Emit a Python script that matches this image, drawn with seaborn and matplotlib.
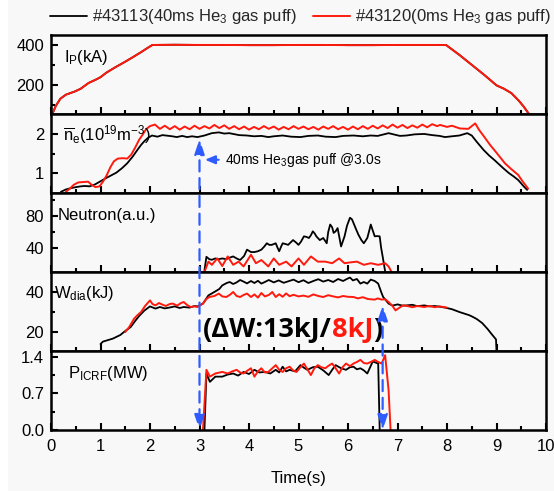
import matplotlib
matplotlib.use("Agg")
import matplotlib.pyplot as plt
import seaborn as sns
from matplotlib.patches import ConnectionPatch, Rectangle
from matplotlib.ticker import MultipleLocator, FixedLocator, FormatStrFormatter
from matplotlib.offsetbox import TextArea, HPacker, AnnotationBbox

# ---------------- data ----------------
shot_labels = ["#43113(40ms He$_3$ gas puff)", "#43120(0ms He$_3$ gas puff)"]

# plasma current (kA)
t_ip = [0.03, 0.1, 0.19, 0.3, 0.48, 0.6, 0.76, 0.9, 1.0, 1.12, 1.3, 1.48, 1.65, 1.84,
        1.95, 2.05, 2.5, 3.0, 3.5, 4.0, 4.5, 5.0, 5.5, 6.0, 6.5, 7.0, 7.5, 7.98,
        8.25, 8.5, 8.75, 9.0, 9.15, 9.3, 9.45, 9.55, 9.65]
ip_43113 = [55, 95, 130, 150, 166, 180, 209, 225, 238, 261, 288, 313, 338, 367,
            385, 400, 401, 400, 400, 399, 399, 400, 400, 399, 399, 400, 400, 400,
            350, 300, 250, 197, 180, 158, 120, 90, 55]
ip_43120 = [55, 95, 130, 150, 166, 180, 209, 225, 238, 261, 288, 313, 338, 367,
            385, 400, 401, 400, 400, 399, 399, 400, 400, 399, 399, 400, 400, 400,
            350, 300, 250, 197, 180, 158, 120, 90, 55]

# line-averaged density (1e19 m^-3)
t_ne_a = [0.2, 0.3, 0.39, 0.5, 0.6, 0.68, 0.78, 0.89, 1.0, 1.11, 1.2, 1.32, 1.43, 1.54,
          1.65, 1.75, 1.82, 1.89, 1.96, 2.04, 2.15, 2.25, 2.32, 2.45, 2.54, 2.65, 2.75,
          2.85, 2.96, 3.1, 3.25, 3.39, 3.5, 3.6, 3.68, 3.8, 3.96, 4.1, 4.25, 4.39, 4.5,
          4.68, 4.85, 5.04, 5.2, 5.39, 5.55, 5.75, 5.9, 6.11, 6.3, 6.46, 6.6, 6.82, 6.95,
          7.05, 7.18, 7.35, 7.54, 7.7, 7.85, 7.96, 8.1, 8.25, 8.41, 8.5, 8.6, 8.74, 8.85,
          8.96, 9.14, 9.25, 9.35, 9.44, 9.55, 9.62]
ne_43113 = [0.52, 0.58, 0.61, 0.64, 0.66, 0.67, 0.66, 0.71, 0.79, 0.87, 0.93, 1.01, 1.12, 1.25,
            1.42, 1.6, 1.72, 1.82, 1.9, 1.96, 1.93, 1.97, 1.96, 1.94, 1.92, 1.95, 1.92,
            1.94, 1.92, 1.96, 2.02, 2.04, 2.01, 2.02, 2.0, 1.97, 1.96, 1.94, 1.95, 1.92, 1.94,
            1.96, 1.93, 1.92, 1.95, 1.96, 1.93, 1.92, 1.95, 1.96, 1.94, 1.96, 1.95, 2.02, 1.98,
            1.95, 1.96, 1.99, 2.0, 1.97, 1.95, 1.92, 1.94, 1.96, 2.02, 1.96, 1.8, 1.59, 1.45,
            1.33, 1.12, 1.0, 0.91, 0.82, 0.66, 0.57]
t_ne_b = [0.3, 0.38, 0.46, 0.55, 0.65, 0.75, 0.82, 0.9, 0.98, 1.05, 1.12, 1.2, 1.27, 1.35,
          1.45, 1.54, 1.62, 1.7, 1.78, 1.85, 1.92, 2.0, 2.1,
          2.2, 2.3, 2.4, 2.5, 2.6, 2.7, 2.8, 2.9, 3.0, 3.1, 3.2, 3.3, 3.4, 3.5, 3.6, 3.7,
          3.8, 3.9, 4.0, 4.1, 4.2, 4.3, 4.4, 4.5, 4.6, 4.7, 4.8, 4.9, 5.0, 5.1, 5.2, 5.3,
          5.4, 5.5, 5.6, 5.7, 5.8, 5.9, 6.0, 6.1, 6.2, 6.3, 6.4, 6.5, 6.6, 6.7, 6.8, 6.9,
          7.0, 7.1, 7.2, 7.3, 7.4, 7.5, 7.6, 7.7, 7.8,
          7.86, 8.0, 8.1, 8.26, 8.43, 8.57, 8.65, 8.75, 8.87, 9.0, 9.17, 9.3, 9.44, 9.52,
          9.58, 9.64]
ne_43120 = [0.52, 0.6, 0.7, 0.76, 0.77, 0.78, 0.7, 0.64, 0.66, 0.78, 0.93, 1.15, 1.3, 1.37,
            1.38, 1.37, 1.47, 1.65, 1.85, 1.98, 2.12, 2.2, 2.24,
            2.13, 2.21, 2.12, 2.20, 2.11, 2.19, 2.12, 2.21, 2.13, 2.20, 2.14, 2.23, 2.15, 2.22,
            2.13, 2.20, 2.12, 2.19, 2.11, 2.18, 2.12, 2.20, 2.13, 2.19, 2.11, 2.18, 2.12, 2.20,
            2.13, 2.19, 2.12, 2.18, 2.11, 2.19, 2.13, 2.20, 2.12, 2.18, 2.11, 2.19, 2.12, 2.20,
            2.13, 2.21, 2.14, 2.22, 2.15, 2.24, 2.16, 2.23, 2.15, 2.22, 2.16, 2.24, 2.17, 2.25,
            2.20,
            2.23, 2.18, 2.21, 2.14, 2.13, 2.27, 2.1, 1.93, 1.72, 1.52, 1.25, 1.1, 0.95, 0.8,
            0.7, 0.6]

# neutron yield (a.u.)
t_neu_a = [3.1, 3.14, 3.2, 3.25, 3.32, 3.39, 3.46, 3.54, 3.61, 3.68, 3.75, 3.82, 3.9, 3.96,
           4.04, 4.11, 4.18, 4.25, 4.31, 4.36, 4.41, 4.46, 4.5, 4.54, 4.58, 4.61, 4.65, 4.68,
           4.74, 4.79, 4.84, 4.89, 4.95, 5.0, 5.05, 5.11, 5.16, 5.21, 5.25, 5.29, 5.33, 5.36,
           5.43, 5.5, 5.57, 5.6, 5.64, 5.68, 5.71, 5.75, 5.79, 5.83, 5.86, 5.93, 5.98, 6.04,
           6.08, 6.11, 6.16, 6.21, 6.27, 6.32, 6.39, 6.43, 6.46, 6.5, 6.54, 6.58, 6.64, 6.67,
           6.7, 6.75]
neu_43113 = [12, 29, 26, 25.3, 27, 26, 27, 26, 28, 29.5, 27, 25, 30, 38,
             35, 35, 36, 38, 42, 46, 44, 44, 45, 46, 40, 36, 42, 46,
             45, 44, 47, 50, 47, 44, 48, 54.7, 54, 52.6, 56, 61, 58, 54.7,
             50, 52.6, 46, 60, 69.5, 66, 59, 61, 65, 52, 42, 54.7, 68, 78,
             76, 71.6, 64, 56.8, 50, 46, 52.6, 62, 69.5, 62, 54.7, 55, 54.7, 40,
             29.5, 11]
t_neu_b = [3.1, 3.18, 3.25, 3.36, 3.46, 3.57, 3.68, 3.79, 3.89, 4.04, 4.14, 4.25, 4.39, 4.5,
           4.61, 4.75, 4.86, 5.0, 5.11, 5.25, 5.39, 5.54, 5.68, 5.82, 5.93, 6.04, 6.18, 6.32,
           6.46, 6.61, 6.75, 6.82, 6.88]
neu_43120 = [10, 23, 19, 27, 17.5, 29.5, 19, 23, 17, 31.6, 21, 25, 17, 27,
             19, 23, 17, 27, 19, 29.5, 23, 23, 21, 27, 21, 22, 23, 19,
             21, 19, 21, 17, 10]

# diamagnetic stored energy (kJ)
t_w_a = [1.0, 1.05, 1.25, 1.4, 1.5, 1.61, 1.7, 1.78, 1.89, 2.0, 2.11, 2.2, 2.3, 2.39, 2.5,
         2.6, 2.68, 2.8, 2.9, 2.96, 3.07, 3.18, 3.3, 3.4, 3.46, 3.55, 3.61, 3.68, 3.75,
         3.82, 3.89, 3.96, 4.04, 4.11, 4.18, 4.25, 4.32, 4.4, 4.5, 4.6, 4.7, 4.8, 4.9,
         5.0, 5.1, 5.2, 5.3, 5.4, 5.5, 5.6, 5.7, 5.8, 5.9, 6.0, 6.04, 6.1, 6.18, 6.25,
         6.32, 6.39, 6.46, 6.54, 6.61, 6.67, 6.71, 6.82, 6.9, 7.0, 7.1, 7.18, 7.3, 7.4,
         7.54, 7.65, 7.75, 7.84, 7.96, 8.1, 8.25, 8.35, 8.45, 8.51, 8.6, 8.71, 8.82, 8.9,
         8.99, 9.0]
w_43113 = [14, 15.2, 16.7, 18.5, 20.5, 22.5, 25.5, 28, 30.8, 32.8, 31.7, 32.5, 31.8, 32.2, 32.8,
           32.0, 32.5, 32.2, 33.0, 32.8, 34.2, 38.3, 40.0, 41.5, 43.3, 44.5, 45, 44.0, 44.8,
           46, 45.2, 44.3, 45.5, 44.5, 45.6, 44.2, 45.0, 46.0, 44.8, 45.8, 44.6, 45.4, 46.2,
           44.9, 45.9, 44.5, 45.5, 46.4, 45.2, 46.0, 45.0, 46.5, 45.5, 46.8, 47.2, 45.8, 46.5, 44.2,
           45.0, 44.2, 46.2, 45.5, 44.2, 40, 37.5, 34.2, 33.2, 33.8, 33.2, 33.3, 33.6, 32.9,
           33.3, 32.8, 33.0, 32.7, 32.2, 31.4, 30.0, 29.2, 28.4, 27.7, 26.5, 24.5, 21.5, 19.0,
           16.3, 10.6]
t_w_b = [1.5, 1.58, 1.68, 1.75, 1.82, 1.9, 2.0, 2.05, 2.11, 2.18, 2.25, 2.32, 2.4, 2.46,
         2.55, 2.62, 2.68, 2.75, 2.82, 2.9, 2.96, 3.07, 3.14, 3.2, 3.3, 3.39, 3.46, 3.54,
         3.61, 3.68, 3.75, 3.82, 3.89, 3.96, 4.04, 4.11, 4.18, 4.25, 4.32, 4.4, 4.47, 4.54,
         4.61, 4.68, 4.75, 4.82, 4.9, 5.0, 5.1, 5.2, 5.3, 5.4, 5.5, 5.6, 5.7, 5.8, 5.9, 6.0,
         6.11, 6.2, 6.3, 6.4, 6.54, 6.6, 6.68, 6.75, 6.82, 6.9, 6.96, 7.03, 7.11, 7.2, 7.3,
         7.4, 7.54, 7.65, 7.75, 7.85, 8.0]
w_43120 = [20, 22.5, 26.7, 28.5, 30, 33, 35.8, 34, 33.3, 34.5, 33.7, 33.0, 34.0, 34.2,
           33.2, 34.4, 35, 33.5, 32.5, 32.8, 32.5, 34.2, 36.5, 37.5, 38.0, 39.2, 37.8, 37.5,
           38.5, 40, 38.0, 37.5, 38.5, 39.2, 37.5, 38.8, 37.2, 39.5, 37.8, 38.5, 40.0, 37.5,
           38.9, 37.6, 39.3, 37.9, 38.6, 37.8, 38.2, 37.6, 38.8, 38.0, 37.5, 38.4, 37.8, 37.3, 38.0, 37.6,
           37.5, 36.8, 37.4, 36.5, 36.2, 36.8, 36.2, 36.4, 35.0, 33.0, 30.8, 32.0, 33.3, 33.0, 32.4,
           33.0, 32.5, 33.0, 32.4, 32.8, 32.2]

# ICRF power (MW)
t_p_a = [3.1, 3.14, 3.21, 3.32, 3.46, 3.57, 3.68, 3.78, 3.89, 4.0, 4.11, 4.21, 4.32, 4.43,
         4.54, 4.61, 4.68, 4.75, 4.82, 4.93, 5.04, 5.11, 5.18, 5.29, 5.39, 5.5, 5.61, 5.68,
         5.75, 5.86, 5.96, 6.04, 6.11, 6.18, 6.25, 6.32, 6.39, 6.5, 6.61, 6.64]
p_43113 = [0.0, 1.08, 0.92, 1.02, 1.02, 1.06, 1.08, 1.04, 1.11, 1.07, 1.15, 1.1, 1.11, 1.08,
           1.15, 1.1, 1.21, 1.12, 1.15, 1.12, 1.24, 1.19, 1.15, 1.2, 1.21, 1.14, 1.05, 1.15,
           1.24, 1.18, 1.15, 1.2, 1.21, 1.16, 1.18, 1.14, 1.08, 1.31, 1.27, 0.0]
t_p_b = [3.07, 3.14, 3.21, 3.32, 3.46, 3.57, 3.66, 3.75, 3.82, 3.89, 3.96, 4.04, 4.11, 4.18,
         4.25, 4.32, 4.39, 4.46, 4.54, 4.61, 4.68, 4.75, 4.82, 4.89, 4.96, 5.04, 5.11, 5.18,
         5.25, 5.32, 5.39, 5.46, 5.54, 5.61, 5.68, 5.75, 5.82, 5.89, 5.96, 6.04, 6.11, 6.18,
         6.25, 6.32, 6.39, 6.46, 6.54, 6.61, 6.68, 6.75, 6.82, 6.86]
p_43120 = [0.0, 1.15, 1.02, 1.08, 1.11, 1.08, 1.12, 1.15, 1.1, 1.08, 1.13, 1.18, 1.02, 1.12,
           1.18, 1.1, 1.11, 1.17, 1.24, 1.15, 1.11, 1.18, 1.21, 1.14, 1.11, 1.2, 1.27, 1.16,
           1.05, 1.18, 1.24, 1.2, 1.18, 1.23, 1.27, 1.18, 1.08, 1.2, 1.27, 1.22, 1.27, 1.3,
           1.34, 1.28, 1.27, 1.3, 1.34, 1.3, 1.27, 1.43, 0.76, 0.0]

# ---------------- style ----------------
sns.set_theme(style="ticks")
plt.rcParams["font.family"] = ["Liberation Sans", "DejaVu Sans"]
plt.rcParams["mathtext.default"] = "regular"

BG = "#f8f8f8"
BLACK = "#000000"
RED = "#ff1a0d"
BLUE = "#2f5cff"

W, H = 554, 491
fig = plt.figure(figsize=(W / 100, H / 100), dpi=100, facecolor=BG)
fig.add_artist(Rectangle((0, 0), 8 / W, 1, transform=fig.transFigure,
                         facecolor="white", edgecolor="none", zorder=-10))

left, right = 51 / W, 546 / W
top, bottom = 1 - 35 / H, 1 - 430 / H
ph = (top - bottom) / 5
axes = [fig.add_axes([left, top - (i + 1) * ph, right - left, ph], facecolor=BG)
        for i in range(5)]

series = [
    (t_ip, ip_43113, t_ip, ip_43120),
    (t_ne_a, ne_43113, t_ne_b, ne_43120),
    (t_neu_a, neu_43113, t_neu_b, neu_43120),
    (t_w_a, w_43113, t_w_b, w_43120),
    (t_p_a, p_43113, t_p_b, p_43120),
]
for ax, (ta, ya, tb, yb) in zip(axes, series):
    sns.lineplot(x=ta, y=ya, ax=ax, color=BLACK, lw=1.3, estimator=None, sort=False,
                 label=shot_labels[0])
    sns.lineplot(x=tb, y=yb, ax=ax, color=RED, lw=1.4, estimator=None, sort=False,
                 label=shot_labels[1])

handles, labels = axes[0].get_legend_handles_labels()
for ax in axes:
    if ax.get_legend() is not None:
        ax.get_legend().remove()

ylims = [(53, 450), (0.49, 2.51), (10, 109), (10.5, 50), (0, 1.51)]
ymajor = [[200, 400], [1, 2], [40, 80], [20, 40], [0.0, 0.7, 1.4]]
yminor = [[100, 300], [1.5], [60, 100], [30], [0.35, 1.05]]
yfmt = ["%d", "%d", "%d", "%d", "%.1f"]
panel_text = ["I$_P$(kA)", r"$\overline{n}_e$(10$^{19}$m$^{-3}$)", "Neutron(a.u.)",
              "W$_{dia}$(kJ)", "P$_{ICRF}$(MW)"]
text_pos = [(0.026, 0.72), (0.024, 0.74), (0.014, 0.72), (0.006, 0.73), (0.034, 0.72)]

for i, ax in enumerate(axes):
    ax.set_xlim(0, 10)
    ax.set_ylim(*ylims[i])
    ax.xaxis.set_major_locator(MultipleLocator(1))
    ax.xaxis.set_minor_locator(MultipleLocator(0.5))
    ax.yaxis.set_major_locator(FixedLocator(ymajor[i]))
    ax.yaxis.set_minor_locator(FixedLocator(yminor[i]))
    ax.yaxis.set_major_formatter(FormatStrFormatter(yfmt[i]))
    ax.tick_params(which="both", direction="in", top=False, right=False,
                   width=1.5, color="black", labelsize=12, labelcolor="black")
    ax.tick_params(which="major", length=5)
    ax.tick_params(which="minor", length=3)
    ax.tick_params(axis="y", pad=5)
    ax.tick_params(axis="x", pad=6.5)
    ax.set_xlabel("")
    ax.set_ylabel("")
    if i < 4:
        ax.tick_params(axis="x", labelbottom=False)
    for s in ax.spines.values():
        s.set_linewidth(1.8)
        s.set_color("black")
        s.set_visible(True)
    ax.text(text_pos[i][0], text_pos[i][1], panel_text[i], transform=ax.transAxes,
            ha="left", va="center", fontsize=12, color="black")

fig.text((left + right) / 2, 1 - 478 / H, "Time(s)", ha="center", va="center",
         fontsize=12, color="black")

fig.legend(handles, labels, loc="center left", bbox_to_anchor=(50 / W, 1 - 17 / H),
           ncol=2, frameon=False, fontsize=12, handlelength=2.2, handletextpad=0.3,
           columnspacing=1.0, borderpad=0, borderaxespad=0)

# dashed markers for RF on / off
dash_style = dict(arrowstyle="<|-|>,head_length=0.9,head_width=0.3", mutation_scale=10,
                  color=BLUE, lw=1.6, linestyle=(0, (5, 3)), shrinkA=0, shrinkB=0)
fig.add_artist(ConnectionPatch(xyA=(3.0, 1.87), coordsA=axes[1].transData,
                               xyB=(3.0, 0.0), coordsB=axes[4].transData, **dash_style))
fig.add_artist(ConnectionPatch(xyA=(6.7, 33.3), coordsA=axes[3].transData,
                               xyB=(6.7, 0.0), coordsB=axes[4].transData, **dash_style))

axes[1].annotate("40ms He$_3$gas puff @3.0s", xy=(3.11, 1.34), xytext=(3.51, 1.34),
                 textcoords="data", ha="left", va="center", fontsize=10, color="black",
                 arrowprops=dict(arrowstyle="-|>,head_length=0.6,head_width=0.25",
                                 color=BLUE, lw=1.5, shrinkA=2, shrinkB=0))

big = dict(fontsize=19.5, fontweight="bold", family=["Open Sans", "DejaVu Sans"])
pack = HPacker(children=[TextArea("(ΔW:13kJ/", textprops=dict(color=BLACK, **big)),
                         TextArea("8kJ", textprops=dict(color=RED, **big)),
                         TextArea(")", textprops=dict(color=BLACK, **big))],
               align="baseline", pad=0, sep=0)
axes[3].add_artist(AnnotationBbox(pack, (3.07, 20.8), xycoords="data",
                                  box_alignment=(0, 0.5), frameon=False, pad=0,
                                  annotation_clip=False))

fig.savefig("out.png", dpi=100, facecolor=fig.get_facecolor())
